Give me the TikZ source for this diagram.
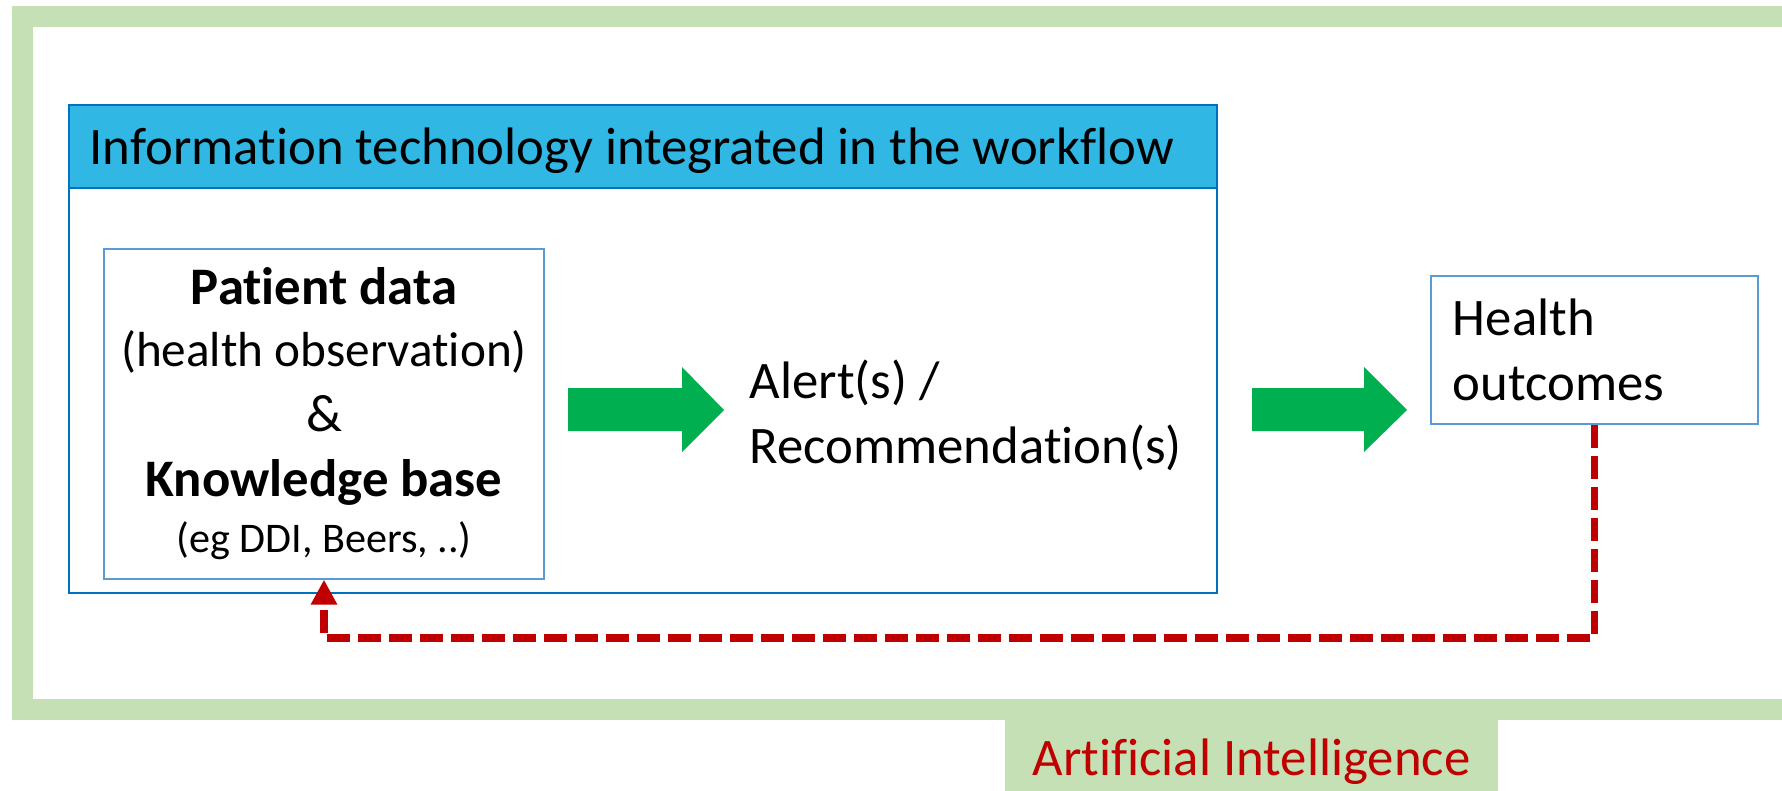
\documentclass[tikz,border=0pt]{standalone}
\usepackage{fontspec}
\setmainfont{Carlito}[Ligatures={TeX,NoCommon,NoContextual,NoRequired},RawFeature={-calt}]
\usepackage{tikz}
\usetikzlibrary{arrows.meta}

\definecolor{framegreen}{RGB}{197,224,180}
\definecolor{headblue}{RGB}{49,183,227}
\definecolor{edgeblue}{RGB}{0,112,192}
\definecolor{boxblue}{RGB}{91,155,213}
\definecolor{arrowgreen}{RGB}{0,176,80}
\definecolor{darkred}{RGB}{192,0,0}

\begin{document}
\begin{tikzpicture}[x=0.01cm, y=-0.01cm,
	every node/.style={inner sep=0pt, font=\fontsize{15}{18.5}\selectfont},
	aiframe/.style={draw=framegreen, line width=0.21cm, line join=miter},
	ailabel/.style={fill=framegreen, text=darkred, minimum width=4.93cm, minimum height=0.86cm},
	container/.style={draw=edgeblue, line width=0.6pt, minimum width=11.48cm, minimum height=4.88cm},
	header/.style={draw=edgeblue, fill=headblue, line width=0.6pt, minimum width=11.48cm, minimum height=0.83cm},
	infobox/.style={draw=boxblue, line width=0.6pt, fill=white},
	blockarrow/.style={fill=arrowgreen},
	feedback/.style={draw=darkred, line width=0.075cm, dash pattern=on 0.23cm off 0.08cm,
		-{Triangle[length=0.25cm, width=0.25cm]}}]
	\useasboundingbox (0,0) rectangle (1782,791);
	\draw [aiframe] (1800,16.5) -- (22.5,16.5) -- (22.5,709.5) -- (1800,709.5);
	\node [ailabel] (ai) at (1251.5,762) {Artificial Intelligence};
	\node [container] (workflow) at (643,349) {};
	\node [header, anchor=north west] (header) at (workflow.north west) {};
	\node [anchor=base west] (title) at (89,165) {Information technology integrated in the workflow};
	\node [infobox, minimum width=4.40cm, minimum height=3.29cm, align=center] (patient) at (324,414)
		{{\bfseries Patient data}\\[-1pt]{\fontsize{14}{18.5}\selectfont (health observation)}\\\&\\{\bfseries Knowledge base}\\[-2.5pt]
		{\fontsize{12}{14}\selectfont (eg DDI, Beers, ..)}};
	\node [anchor=west, align=left] (alert) at (749,415) {Alert(s) /\\Recommendation(s)};
	\node [infobox, minimum width=3.27cm, minimum height=1.48cm, text width=2.83cm, align=left] (health) at (1594.5,350)
		{Health\\outcomes};
	\fill [blockarrow] (568,388) -- (682,388) -- (682,367) -- (724,410) -- (682,452) -- (682,431) -- (568,431) -- cycle;
	\fill [blockarrow] (1252,388) -- (1364,388) -- (1364,367) -- (1407,410) -- (1364,452) -- (1364,431) -- (1252,431) -- cycle;
	\coordinate (loop) at (324,638);
	\draw [feedback] (health.south) |- (loop) -- (patient.south);
\end{tikzpicture}
\end{document}
